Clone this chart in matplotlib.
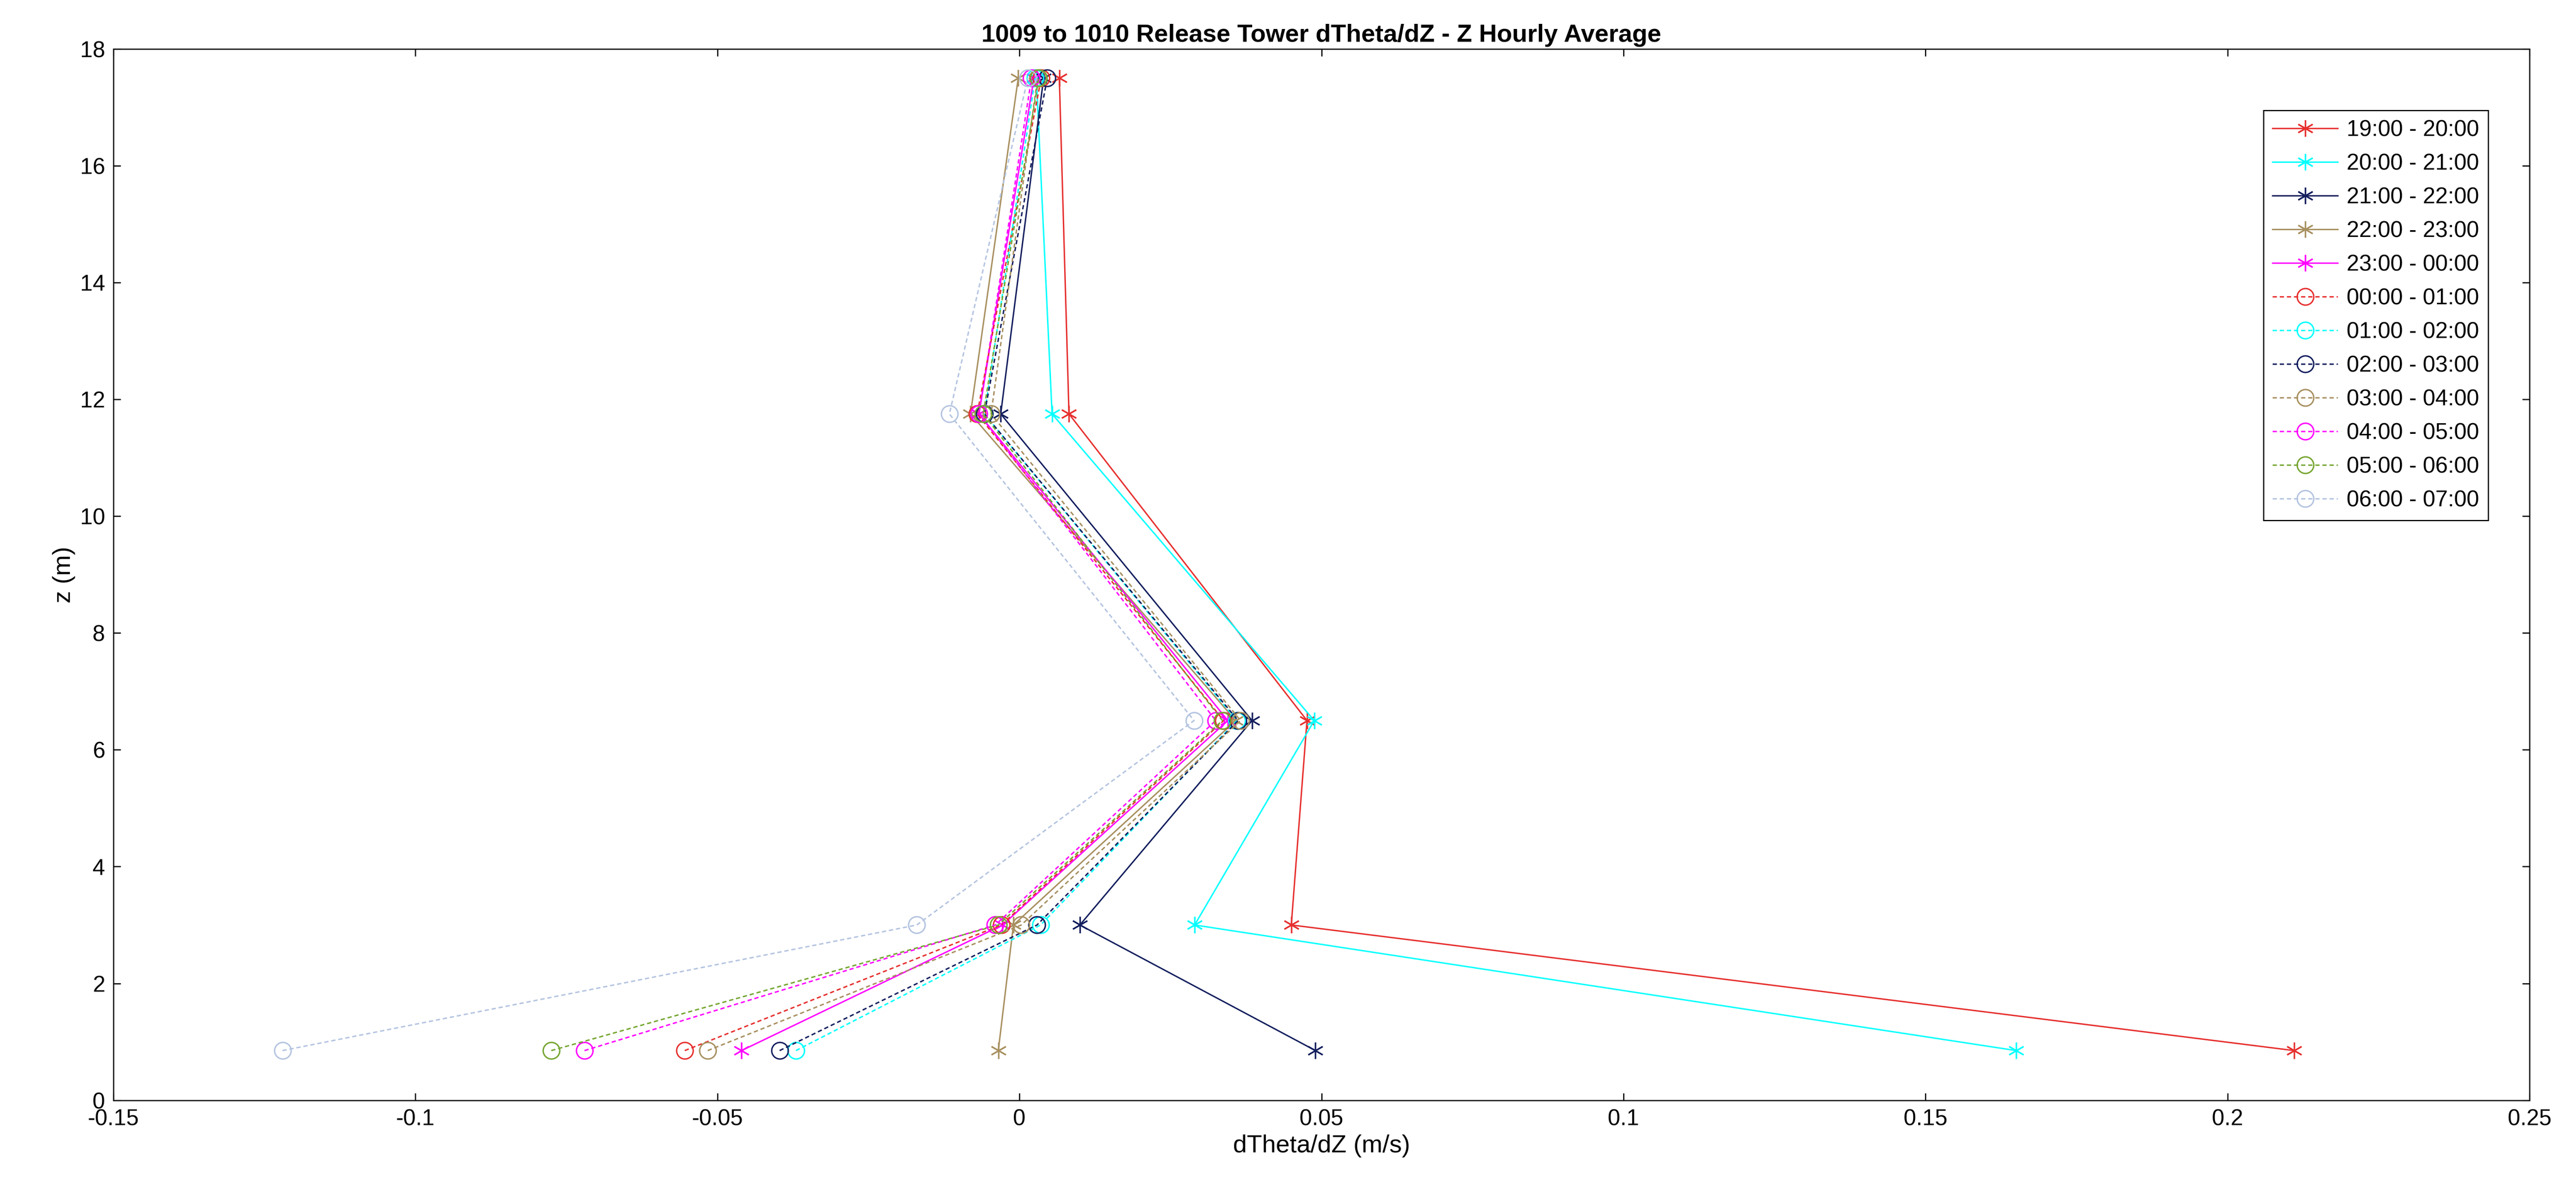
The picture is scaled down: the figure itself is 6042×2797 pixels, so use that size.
import matplotlib
matplotlib.use("Agg")
import matplotlib.pyplot as plt

plt.rcParams['font.family'] = ['Liberation Sans', 'DejaVu Sans']

z = [0.85, 3.0, 6.5, 11.75, 17.5]
labels = ["19:00 - 20:00", "20:00 - 21:00", "21:00 - 22:00", "22:00 - 23:00",
          "23:00 - 00:00", "00:00 - 01:00", "01:00 - 02:00", "02:00 - 03:00",
          "03:00 - 04:00", "04:00 - 05:00", "05:00 - 06:00", "06:00 - 07:00"]
h19 = [0.211, 0.045, 0.0476, 0.0082, 0.0066]
h20 = [0.165, 0.029, 0.0488, 0.0054, 0.0028]
h21 = [0.049, 0.010, 0.0385, -0.0031, 0.0040]
h22 = [-0.0035, -0.0010, 0.0358, -0.0081, -0.0002]
h23 = [-0.046, -0.0028, 0.0345, -0.0067, 0.0024]
h00 = [-0.0554, -0.0030, 0.0338, -0.0070, 0.0036]
h01 = [-0.037, 0.0035, 0.0360, -0.0058, 0.0026]
h02 = [-0.0397, 0.0029, 0.0362, -0.0058, 0.0046]
h03 = [-0.0516, 0.0003, 0.0366, -0.0047, 0.0030]
h04 = [-0.072, -0.0040, 0.0325, -0.0067, 0.0020]
h05 = [-0.0775, -0.0035, 0.0336, -0.0060, 0.0032]
h06 = [-0.122, -0.017, 0.0289, -0.0116, 0.0014]
series = [h19, h20, h21, h22, h23, h00, h01, h02, h03, h04, h05, h06]

colors = ["#e6302f", "#00ffff", "#141f5e", "#a89060", "#ff00ff",
          "#e6302f", "#00ffff", "#141f5e", "#a89060", "#ff00ff", "#76a632", "#b4c4e0"]

fig = plt.figure(figsize=(6042/400, 2797/400), dpi=400)
ax = fig.add_axes([0.044, 0.077, 0.938, 0.882])
for i, (vals, lab, c) in enumerate(zip(series, labels, colors)):
    if i < 5:
        ax.plot(vals, z, color=c, lw=0.6, ls='-', marker=(6, 2, 0), ms=7, mew=0.6, label=lab)
    else:
        ax.plot(vals, z, color=c, lw=0.6, ls=(0, (3, 2)), marker='o', ms=7, mfc='none', mew=0.6, label=lab)

ax.set_xlim(-0.15, 0.25)
ax.set_ylim(0, 18)
ax.set_xticks([-0.15, -0.1, -0.05, 0, 0.05, 0.1, 0.15, 0.2, 0.25])
ax.set_xticklabels(["-0.15", "-0.1", "-0.05", "0", "0.05", "0.1", "0.15", "0.2", "0.25"])
ax.set_yticks(range(0, 19, 2))
ax.tick_params(direction='in', labelsize=9.5, width=0.5, length=3, top=True, right=True)
for s in ax.spines.values():
    s.set_linewidth(0.5)
ax.set_xlabel("dTheta/dZ (m/s)", fontsize=10.5, labelpad=2)
ax.set_ylabel("z (m)", fontsize=10.5, labelpad=2)
ax.set_title("1009 to 1010 Release Tower dTheta/dZ - Z Hourly Average", fontsize=10.5, fontweight='bold', pad=3)
leg = ax.legend(loc='upper right', bbox_to_anchor=(0.9875, 0.952), fontsize=9.5, fancybox=False,
                edgecolor='black', framealpha=1, handlelength=2.9, labelspacing=0.55, borderpad=0.4,
                handletextpad=0.4)
leg.get_frame().set_linewidth(0.5)
fig.savefig("out.png", dpi=400)
